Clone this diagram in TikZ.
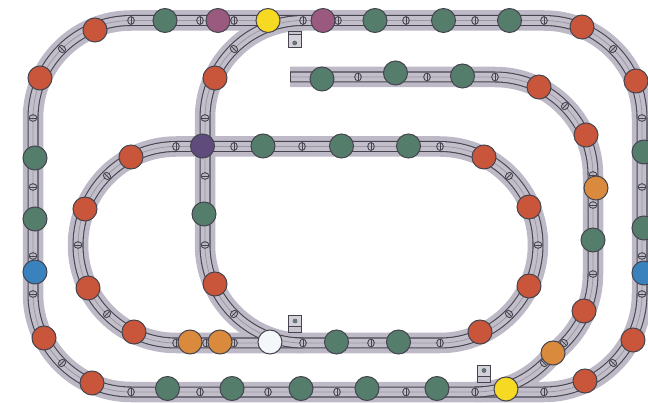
\documentclass[tikz,border=0pt]{standalone}
\definecolor{bed}{HTML}{BDB9C6}
\definecolor{railin}{HTML}{C2BFCA}
\definecolor{raildk}{HTML}{46454F}
\definecolor{mid}{HTML}{9C98A6}
\definecolor{cred}{HTML}{C9553A}
\definecolor{cgreen}{HTML}{557D6C}
\definecolor{cplum}{HTML}{9A5A80}
\definecolor{cyel}{HTML}{F5D922}
\definecolor{cdark}{HTML}{5F4B7C}
\definecolor{corange}{HTML}{D98A3C}
\definecolor{cwhite}{HTML}{F4F7FA}
\definecolor{cblue}{HTML}{3A82BD}
\tikzset{
  bedline/.style={line width=20.5pt,draw=bed,line join=round},
  railo/.style={line width=11pt,draw=raildk,line join=round},
  raili/.style={line width=8.8pt,draw=railin,line join=round},
  midl/.style={line width=0.8pt,draw=mid,line join=round},
  tie/.style={draw=raildk,line width=0.9pt},
  dot/.style={circle,draw=raildk,line width=1pt,minimum size=24pt,inner sep=0pt},
  sensor/.style={draw=raildk,line width=1pt,fill=#1},
}
\newcommand{\pOuter}{(131,20.5) -- (544,20.5) .. controls (598,20.5) and (642,64) .. (642,118) -- (642,294) .. controls (642,348) and (598,392) .. (544,392) -- (131,392) .. controls (77,392) and (33,348) .. (33,294) -- (33,118) .. controls (33,64) and (77,20.5) .. (131,20.5) -- cycle}
\newcommand{\pMid}{(176,146.5) -- (440,146.5) .. controls (494,146.5) and (538,191) .. (538,245) .. controls (538,299) and (494,343) .. (440,343) -- (176,343) .. controls (122,343) and (78,299) .. (78,245) .. controls (78,191) and (122,146.5) .. (176,146.5) -- cycle}
\newcommand{\pBranch}{(303,20.5) .. controls (249,20.5) and (205,64) .. (205,118) -- (205,245) .. controls (205,299) and (249,343) .. (303,343)}
\newcommand{\pThird}{(290,77) -- (495,77) .. controls (549,77) and (593,121) .. (593,175) -- (593,274) .. controls (593,300) and (582.7,324.9) .. (564.3,343.3) -- (544.3,363.3) .. controls (525.9,381.7) and (501,392) .. (475,392)}
\newcommand{\tieh}[2]{\draw[tie] (#1,#2) ellipse [x radius=3.3,y radius=3.9]; \draw[tie] (#1,#2-3.9) -- (#1,#2+3.9);}
\newcommand{\tiev}[2]{\draw[tie] (#1,#2) ellipse [x radius=3.9,y radius=3.3]; \draw[tie] (#1-3.9,#2) -- (#1+3.9,#2);}
\newcommand{\tied}[3]{\begin{scope}[shift={(#1,#2)},rotate=#3]\draw[tie] (0,0) ellipse [x radius=3.3,y radius=3.9]; \draw[tie] (0,-3.9) -- (0,3.9);\end{scope}}
\begin{document}
\begin{tikzpicture}[x=1pt,y=-1pt]
\useasboundingbox (0,0) rectangle (648,403);
\clip (0,0) rectangle (648,403);
% ballast
\draw[bedline] \pOuter;
\draw[bedline] \pMid;
\draw[bedline] \pBranch;
\draw[bedline] \pThird;
% rails
\foreach \p in {\pOuter,\pMid,\pBranch,\pThird}{
  \draw[railo] \p;
  \draw[raili] \p;
  \draw[midl] \p;
}
\draw[raildk,line width=1pt] (290,72) -- (290,82);
% sleepers
\foreach \x in {131,200,234,303,338,406,475,544} {\tieh{\x}{20.5}}
\foreach \x in {131,200,268,337,406,475,544} {\tieh{\x}{392}}
\foreach \x in {176,234,302,371,440} {\tieh{\x}{146.5}}
\foreach \x in {176,206,234,303,371,440} {\tieh{\x}{343}}
\foreach \x in {358,427,495} {\tieh{\x}{77}}
\foreach \y in {118,187,256,294} {\tiev{33}{\y}\tiev{642}{\y}}
\foreach \y in {118,176,245} {\tiev{205}{\y}}
\foreach \y in {175,205,274} {\tiev{593}{\y}}
\tiev{78}{245}\tiev{538}{245}
\tied{62}{49}{45}\tied{613}{49}{-45}\tied{62}{363}{-45}\tied{613}{363}{45}
\tied{234}{49}{45}\tied{234}{314}{-45}
\tied{107}{176}{45}\tied{107}{314}{-45}\tied{509}{176}{-45}\tied{509}{314}{45}
\tied{565}{106}{-45}\tied{564}{343}{45}\tied{544}{363}{45}
% track sensors
\draw[sensor=bed!85!white] (288,31.5) rectangle (301.5,48);
\draw[sensor=bed!65!white] (288,35) rectangle (301.5,48);
\fill[cgreen] (294.7,43) circle (1.8);
\draw[raildk,line width=0.5pt] (294.7,43) circle (2);
\draw[sensor=bed!85!white] (288,315.5) rectangle (301.5,332.5);
\draw[sensor=bed!65!white] (288,315.5) rectangle (301.5,327);
\fill[cgreen] (295,321) circle (1.8);
\draw[raildk,line width=0.5pt] (295,321) circle (2);
\draw[sensor=bed!85!white] (477,365) rectangle (490.5,382);
\draw[sensor=bed!65!white] (477,365) rectangle (490.5,376.5);
\fill[cgreen] (484,370.5) circle (1.8);
\draw[raildk,line width=0.5pt] (484,370.5) circle (2);
% signals
\foreach \x/\y [count=\i] in {95/30,40/78,215/78,582/27,636/81,539/87,586/135,484/157,529/207,131/157,85/209,88/288,134/332,215/284,529/286,480/332,584/311,633/340,585/381,44/338,92/383}
  \node[dot,fill=cred] (red\i) at (\x,\y) {};
\foreach \x/\y [count=\i] in {165/20.5,375/20.5,443.5/20.5,509.5/20.5,322/79,395.5/73,462.5/76,263/146,341.5/146,408.5/146,204/214,35/158,35/219,593/240,644/152,644/228,167.5/388.5,232/388.5,301/388.5,367/388.5,437/388.5,336.5/342,398.5/342}
  \node[dot,fill=cgreen] (green\i) at (\x,\y) {};
\node[dot,fill=cplum] (plum1) at (218,20.5) {};
\node[dot,fill=cplum] (plum2) at (323,20.5) {};
\node[dot,fill=cyel] (yel1) at (268,20.5) {};
\node[dot,fill=cyel] (yel2) at (506,389) {};
\node[dot,fill=cdark] (dark1) at (202.5,146) {};
\node[dot,fill=corange] (or1) at (596,188) {};
\node[dot,fill=corange] (or2) at (553,353) {};
\node[dot,fill=corange] (or3) at (190,342) {};
\node[dot,fill=corange] (or4) at (220,342) {};
\node[dot,fill=cwhite] (wh1) at (270,342) {};
\node[dot,fill=cblue] (bl1) at (35,272) {};
\node[dot,fill=cblue] (bl2) at (644,273) {};
\end{tikzpicture}
\end{document}
